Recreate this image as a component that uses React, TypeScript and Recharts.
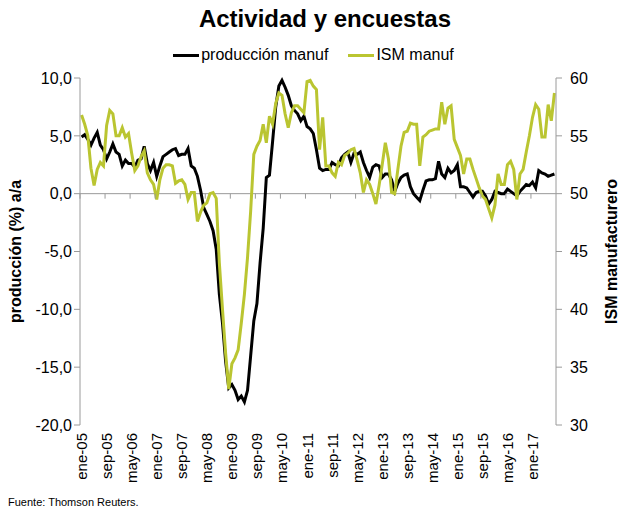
import { LineChart, Line, XAxis, YAxis, ReferenceLine, Legend } from 'recharts'

const MONTHS = ['ene', 'feb', 'mar', 'abr', 'may', 'jun', 'jul', 'ago', 'sep', 'oct', 'nov', 'dic']
const FIRST_YEAR = 2005

// producción manufacturera, % a/a (ene-05 .. ago-17)
const produccion = [
  4.9, 5.1, 4.7, 4.2, 4.8, 5.3, 4.2, 3.8, 3.0, 3.6, 4.3, 3.6,
  3.4, 2.4, 2.9, 2.6, 2.6, 2.3, 2.9, 3.0, 4.1, 2.6, 2.0, 2.7,
  1.5, 2.4, 3.2, 3.4, 3.6, 3.8, 3.9, 3.3, 3.4, 3.4, 3.9, 2.4,
  2.2, 1.5, 0.3, -1.2, -1.8, -2.4, -3.2, -4.8, -8.7, -11.2, -14.5, -16.8,
  -16.5, -17.0, -17.8, -17.5, -18.0, -17.0, -14.0, -11.0, -9.5, -6.0, -3.0, 1.4,
  1.6, 4.5, 7.5, 9.3, 9.8, 9.2, 8.5, 7.6, 7.2, 6.9, 6.3, 6.7,
  5.8, 5.6, 5.2, 3.8, 2.2, 2.0, 2.1, 2.1, 2.7, 2.5, 2.4, 3.1,
  3.4, 3.6, 2.7, 3.5, 3.4, 3.6, 2.7, 2.0, 1.4, 2.3, 2.5, 2.4,
  1.4, 1.7, 1.7, 1.2, 0.2, 0.9, 1.4, 1.6, 1.7, 0.6, 0.0, -0.3,
  -0.6, 0.3, 1.1, 1.2, 1.2, 1.3, 2.8, 1.7, 1.4, 2.2, 1.8, 2.0,
  2.5, 0.6, 0.6, 0.5, 0.1, -0.3, 0.1, 0.2, 0.2, -0.2, -0.9, -0.5,
  0.2, 0.1, 0.0, 0.0, 0.4, 0.2, 0.0, -0.2, 0.2, 0.5, 0.8, 0.7,
  1.0, 0.5, 2.0, 1.8, 1.7, 1.5, 1.6, 1.7,
]

// ISM manufacturero, índice
const ism = [
  56.8, 56.0, 55.0, 52.2, 50.7, 52.1, 52.7, 52.4, 55.9, 57.2, 56.9, 55.0,
  55.0, 55.7, 54.9, 55.2, 53.5, 52.0, 52.4, 53.2, 53.7, 51.8, 51.2, 50.8,
  49.5, 51.2, 52.2, 52.5, 52.5, 52.4, 50.9, 51.1, 51.2, 50.8, 49.5, 50.1,
  50.1, 47.6, 48.4, 49.0, 49.2, 50.0, 50.1, 49.6, 44.0, 40.0, 36.2, 33.1,
  35.3, 35.8, 36.5, 38.8, 41.3, 44.5, 48.5, 53.4, 54.1, 54.6, 56.0, 54.4,
  56.7, 56.0, 57.8, 58.7, 58.5, 56.9, 55.7, 57.0, 57.6, 57.6, 57.3, 57.0,
  59.7, 59.8, 59.3, 59.0, 53.8, 56.6, 52.4, 52.4, 51.8, 51.5, 52.7, 52.5,
  53.3, 53.5, 53.8, 53.9, 52.9, 51.8, 50.1, 51.2, 50.8, 50.0, 49.1, 50.7,
  52.5, 54.4, 53.0, 50.1, 50.0, 52.1, 54.1, 55.3, 55.4, 56.1, 56.0, 56.0,
  52.4, 54.9, 55.1, 55.4, 55.5, 55.6, 55.6, 57.9, 56.0, 57.4, 57.6, 54.7,
  54.0, 53.3, 51.7, 53.0, 53.0, 52.1, 51.3, 50.5, 49.8, 49.5, 48.7, 47.9,
  49.0, 51.7, 50.8, 50.8, 52.5, 52.8, 52.1, 49.5, 51.7, 52.1, 53.6, 55.0,
  56.6, 57.7, 57.3, 54.9, 54.9, 57.7, 56.3, 58.7,
]

const LEFT_TICKS = [-20, -15, -10, -5, 0, 5, 10]
const RIGHT_TICKS = [30, 35, 40, 45, 50, 55, 60]

const data = produccion.map((p, i) => ({
  mes: `${MONTHS[i % 12]}-${String((FIRST_YEAR + Math.floor(i / 12)) % 100).padStart(2, '0')}`,
  produccion: p,
  ism: ism[i],
}))

const W = 623
const H = 523
const TOP = 78
const LEFT = 80
const RIGHT_W = 67
const PLOT_W = W - LEFT - RIGHT_W
const PLOT_H = 347
const ZERO_Y = TOP + (PLOT_H * 10) / 30
const BAND = PLOT_W / produccion.length
const GREEN = '#bac531'
const AXIS = '#9a9a9a'
const FONT = '"Liberation Sans", Arial, sans-serif'

function XTick(props: any) {
  const { x, y, payload } = props
  const edge = x - BAND / 2
  return (
    <g>
      <line x1={edge} y1={ZERO_Y} x2={edge} y2={ZERO_Y + 5} stroke={AXIS} />
      <text
        x={x}
        y={y}
        transform={`rotate(-90, ${x}, ${y})`}
        textAnchor="end"
        dominantBaseline="central"
        fontSize={15}
        fill="#000"
      >
        {payload.value}
      </text>
    </g>
  )
}

function LegendContent() {
  const items = [
    { name: 'producción manuf', color: '#000' },
    { name: 'ISM manuf', color: GREEN },
  ]
  return (
    <div style={{ display: 'flex', justifyContent: 'center', gap: 20, fontSize: 16, paddingLeft: 4 }}>
      {items.map((it) => (
        <div key={it.name} style={{ display: 'flex', alignItems: 'center' }}>
          <span style={{ display: 'inline-block', width: 26, height: 3, background: it.color, marginRight: 2 }} />
          <span>{it.name}</span>
        </div>
      ))}
    </div>
  )
}

export default function App() {
  return (
    <div style={{ position: 'absolute', left: 0, top: 0, width: W, height: H, background: '#fff', fontFamily: FONT }}>
      <div style={{ position: 'absolute', left: 0, top: 5, width: 650, textAlign: 'center', fontSize: 24, fontWeight: 'bold' }}>
        Actividad y encuestas
      </div>
      <LineChart width={W} height={H} data={data} margin={{ top: TOP, right: 0, bottom: 38, left: 0 }} style={{ fontFamily: FONT }}>
        <Legend
          verticalAlign="middle"
          align="center"
          content={<LegendContent />}
          wrapperStyle={{ top: 46, left: 0, width: W }}
        />
        <XAxis
          dataKey="mes"
          scale="band"
          interval={7}
          axisLine={false}
          tickLine={false}
          tick={<XTick />}
          height={60}
        />
        <YAxis
          yAxisId="left"
          domain={[-20, 10]}
          ticks={LEFT_TICKS}
          tickFormatter={(v: number) => v.toFixed(1).replace('.', ',')}
          width={LEFT}
          axisLine={{ stroke: AXIS }}
          tickLine={{ stroke: AXIS }}
          tick={{ fill: '#000', fontSize: 16 }}
          label={{ value: 'producción (%) a/a', angle: -90, position: 'center', dx: -25, style: { fontWeight: 'bold', fontSize: 16, fill: '#000' } }}
        />
        <YAxis
          yAxisId="right"
          orientation="right"
          domain={[30, 60]}
          ticks={RIGHT_TICKS}
          width={RIGHT_W}
          tickMargin={8}
          axisLine={{ stroke: AXIS }}
          tickLine={{ stroke: AXIS }}
          tick={{ fill: '#000', fontSize: 16 }}
          label={{ value: 'ISM manufacturero', angle: -90, position: 'center', dx: 22, style: { fontWeight: 'bold', fontSize: 16, fill: '#000' } }}
        />
        <ReferenceLine yAxisId="left" y={0} stroke={AXIS} />
        <Line
          yAxisId="left"
          dataKey="produccion"
          name="producción manuf"
          stroke="#000"
          strokeWidth={3}
          dot={false}
          isAnimationActive={false}
        />
        <Line
          yAxisId="right"
          dataKey="ism"
          name="ISM manuf"
          stroke={GREEN}
          strokeWidth={3}
          dot={false}
          isAnimationActive={false}
        />
      </LineChart>
      <div style={{ position: 'absolute', left: 8, top: 496, fontSize: 11 }}>Fuente: Thomson Reuters.</div>
    </div>
  )
}
